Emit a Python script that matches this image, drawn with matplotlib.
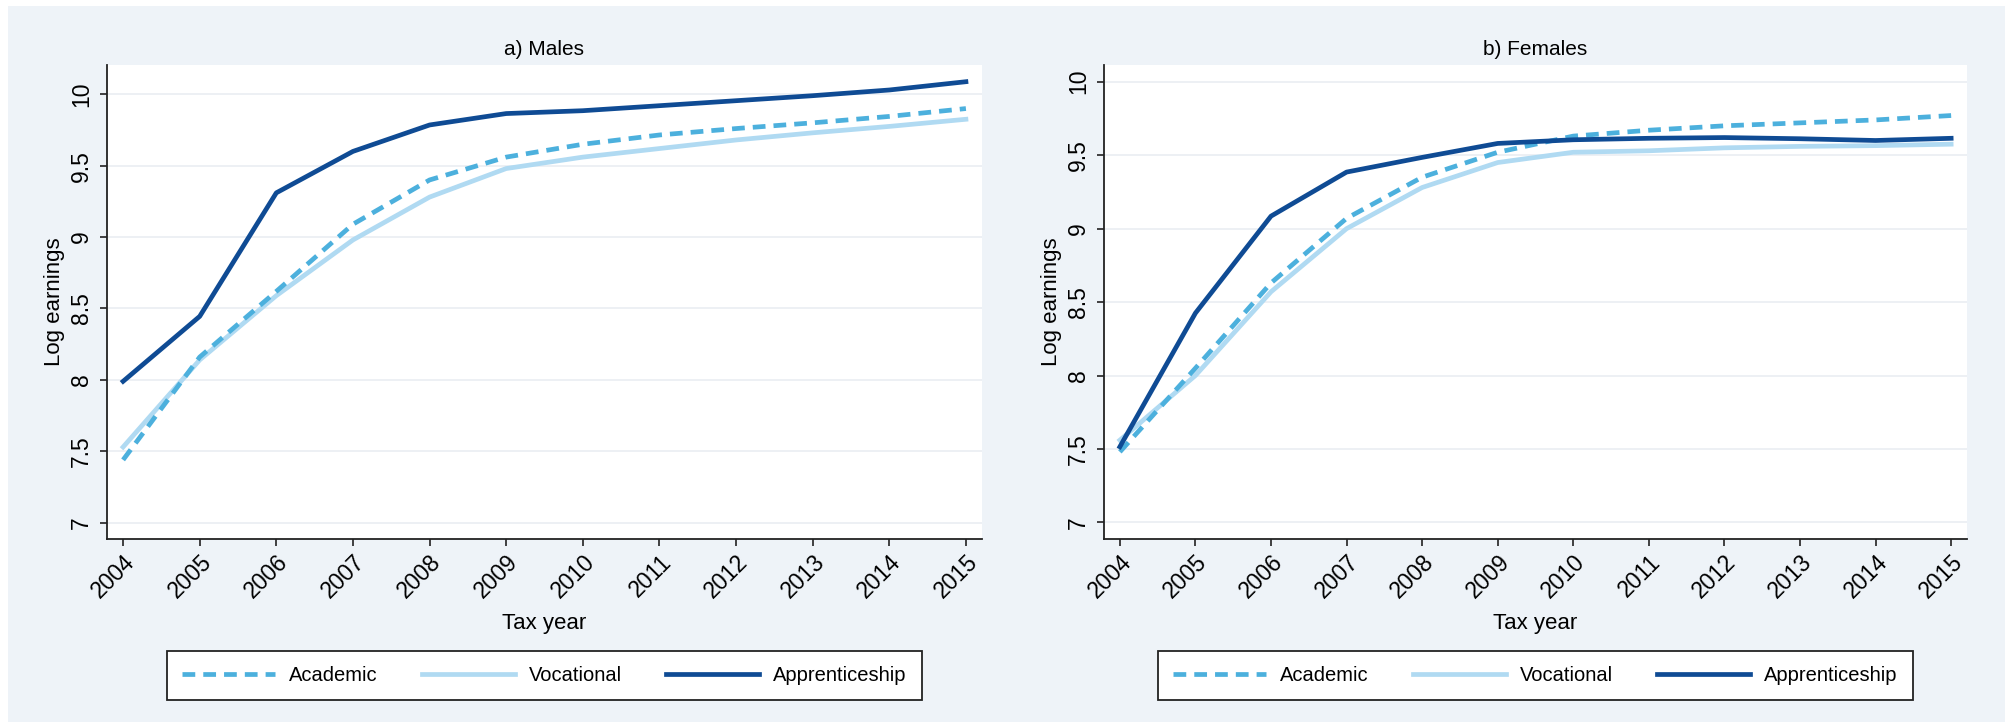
import matplotlib.pyplot as plt
from matplotlib.patches import Rectangle

years = list(range(2004, 2016))

# log earnings by route, males
males_academic = [7.44, 8.16, 8.62, 9.09, 9.40, 9.56, 9.65, 9.715, 9.76, 9.80, 9.845, 9.90]
males_vocational = [7.53, 8.14, 8.59, 8.98, 9.28, 9.48, 9.56, 9.62, 9.68, 9.73, 9.775, 9.825]
males_apprentice = [7.99, 8.445, 9.31, 9.60, 9.785, 9.865, 9.885, 9.92, 9.955, 9.99, 10.03, 10.088]

# log earnings by route, females
females_academic = [7.48, 8.05, 8.63, 9.07, 9.35, 9.52, 9.63, 9.67, 9.70, 9.72, 9.74, 9.77]
females_vocational = [7.56, 8.00, 8.57, 9.00, 9.28, 9.45, 9.52, 9.53, 9.55, 9.56, 9.565, 9.575]
females_apprentice = [7.515, 8.425, 9.085, 9.385, 9.485, 9.58, 9.605, 9.615, 9.62, 9.612, 9.60, 9.615]

route_labels = ["Academic", "Vocational", "Apprenticeship"]
panel_titles = ["a) Males", "b) Females"]
yticks = [7, 7.5, 8, 8.5, 9, 9.5, 10]

c_acad = "#4cb0dd"
c_voc = "#b0daf2"
c_app = "#0f4b94"
bg = "#eef3f8"

plt.rcParams["font.family"] = ["Liberation Sans", "DejaVu Sans"]

fig = plt.figure(figsize=(20.13, 7.28), dpi=100, facecolor="white")
# bluish panel background inside a thin white frame
fig.patches.append(Rectangle((8 / 2013, 6 / 728), 1 - 16 / 2013, 1 - 12 / 728,
                             transform=fig.transFigure, facecolor=bg,
                             edgecolor="none", zorder=-10))

ax1 = fig.add_axes([107 / 2013, 1 - 539 / 728, 875 / 2013, 474 / 728])
ax2 = fig.add_axes([1104 / 2013, 1 - 539 / 728, 863 / 2013, 474 / 728])

panels = [
    (ax1, males_academic, males_vocational, males_apprentice, (6.886, 10.205)),
    (ax2, females_academic, females_vocational, females_apprentice, (6.887, 10.114)),
]

for i, (ax, acad, voc, app, ylim) in enumerate(panels):
    ax.set_facecolor("white")
    for y in yticks:
        ax.axhline(y, color="#eaeef2", lw=1.2, zorder=0)
    la, = ax.plot(years, acad, color=c_acad, lw=3.4, dashes=(2.7, 1.7),
                  solid_capstyle="butt", dash_capstyle="butt", zorder=3)
    lv, = ax.plot(years, voc, color=c_voc, lw=3.4, zorder=2)
    lp, = ax.plot(years, app, color=c_app, lw=3.4, zorder=4)

    ax.set_xlim(2003.79, 2015.21)
    ax.set_ylim(*ylim)
    ax.set_xticks(years)
    ax.set_xticklabels([str(y) for y in years], rotation=45, ha="right",
                       rotation_mode="anchor", fontsize=16.5)
    ax.set_yticks(yticks)
    ax.set_yticklabels(["7", "7.5", "8", "8.5", "9", "9.5", "10"],
                       rotation=90, va="center", fontsize=16.5)
    ax.tick_params(axis="both", length=5, width=1.2, color="#222222", pad=5)
    ax.tick_params(axis="x", pad=3)
    for side in ["top", "right"]:
        ax.spines[side].set_visible(False)
    for side in ["left", "bottom"]:
        ax.spines[side].set_linewidth(1.3)
        ax.spines[side].set_color("#222222")

    ax.set_title(panel_titles[i], fontsize=15, pad=7)
    ax.set_xlabel("Tax year", fontsize=16, labelpad=8)
    ax.set_ylabel("Log earnings", fontsize=16, labelpad=4)

    pos = ax.get_position()
    leg = fig.legend([la, lv, lp], route_labels, ncol=3, loc="center",
                     bbox_to_anchor=((pos.x0 + pos.x1) / 2, 1 - 675.5 / 728),
                     fontsize=14.5, frameon=True, fancybox=False, framealpha=1,
                     handlelength=4.6, columnspacing=2.2, handletextpad=0.7,
                     borderpad=0.75, borderaxespad=0)
    leg.get_frame().set_edgecolor("#222222")
    leg.get_frame().set_linewidth(1.3)

fig.savefig("out.png", dpi=100, facecolor="white")
